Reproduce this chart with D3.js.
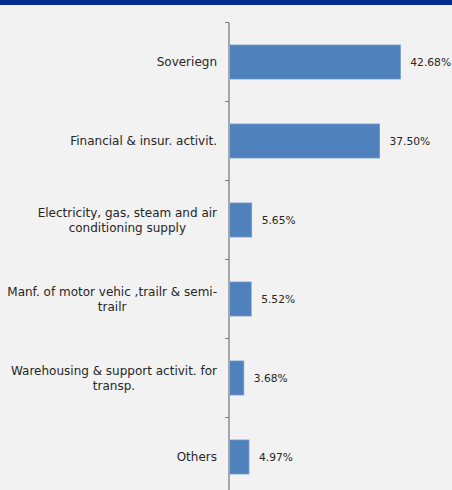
<!DOCTYPE html>
<html>
<head>
<meta charset="utf-8">
<script src="https://cdn.jsdelivr.net/npm/d3@7"></script>
<style>
  html, body { margin: 0; padding: 0; background: #f2f2f2; }
  svg { display: block; }
  text { font-family: "DejaVu Sans", sans-serif; fill: #262626; }
</style>
</head>
<body>
<svg id="chart" width="452" height="490"></svg>
<script>
// Sector breakdown, share of total (%)
const categories = [
  ["Soveriegn"],
  ["Financial & insur. activit."],
  ["Electricity, gas, steam and air", "conditioning supply"],
  ["Manf. of motor vehic ,trailr & semi-", "trailr"],
  ["Warehousing & support activit. for", "transp."],
  ["Others"]
];
const values = [42.68, 37.50, 5.65, 5.52, 3.68, 4.97];
const valueLabels = ["42.68%", "37.50%", "5.65%", "5.52%", "3.68%", "4.97%"];

const W = 452, H = 490;
const svg = d3.select("#chart");

svg.append("rect").attr("width", W).attr("height", H).attr("fill", "#f2f2f2");
// header strip
svg.append("rect").attr("x", 0).attr("y", 0).attr("width", W).attr("height", 5).attr("fill", "#032c90");

const idx = d3.range(categories.length);
const y = d3.scaleBand().domain(idx).range([22.5, 22.5 + 79 * 6]).paddingInner(0.57).paddingOuter(0.285);
const x = d3.scaleLinear().domain([0, 50]).range([229, 429.7]);

// bars
svg.append("g").selectAll("rect").data(idx).join("rect")
  .attr("x", x(0))
  .attr("y", i => y(i))
  .attr("width", i => x(values[i]) - x(0))
  .attr("height", y.bandwidth())
  .attr("fill", "#4f81bd")
  .attr("stroke", "#6b96c9")
  .attr("stroke-width", 0.8);

// value labels
svg.append("g").selectAll("text").data(idx).join("text")
  .attr("x", i => x(values[i]) + 10)
  .attr("y", i => y(i) + y.bandwidth() / 2)
  .attr("dy", "0.35em")
  .attr("font-size", 10.7)
  .text(i => valueLabels[i]);

// category axis: line plus ticks at band boundaries
const axisG = svg.append("g");
axisG.append("line")
  .attr("x1", 229).attr("x2", 229)
  .attr("y1", 22.5).attr("y2", H + 10)
  .attr("stroke", "#a6a6a6").attr("stroke-width", 2);
axisG.selectAll("line.tick").data(idx).join("line")
  .attr("class", "tick")
  .attr("x1", 225).attr("x2", 229)
  .attr("y1", i => y(i) - y.step() * y.paddingOuter())
  .attr("y2", i => y(i) - y.step() * y.paddingOuter())
  .attr("stroke", "#808080").attr("stroke-width", 1);

// category labels: block right-aligned to the axis, lines centred within it
const lineH = 15;
idx.forEach(i => {
  const lines = categories[i];
  const cy = y(i) + y.bandwidth() / 2;
  const g = svg.append("g");
  const texts = lines.map((ln, k) => g.append("text")
    .attr("font-size", 12)
    .attr("y", cy + (k - (lines.length - 1) / 2) * lineH)
    .attr("dy", "0.35em")
    .text(ln));
  const widths = texts.map(t => t.node().getComputedTextLength());
  const maxW = d3.max(widths);
  const right = 217;
  const center = right - maxW / 2;
  texts.forEach(t => t.attr("x", center).attr("text-anchor", "middle"));
});
</script>
</body>
</html>
